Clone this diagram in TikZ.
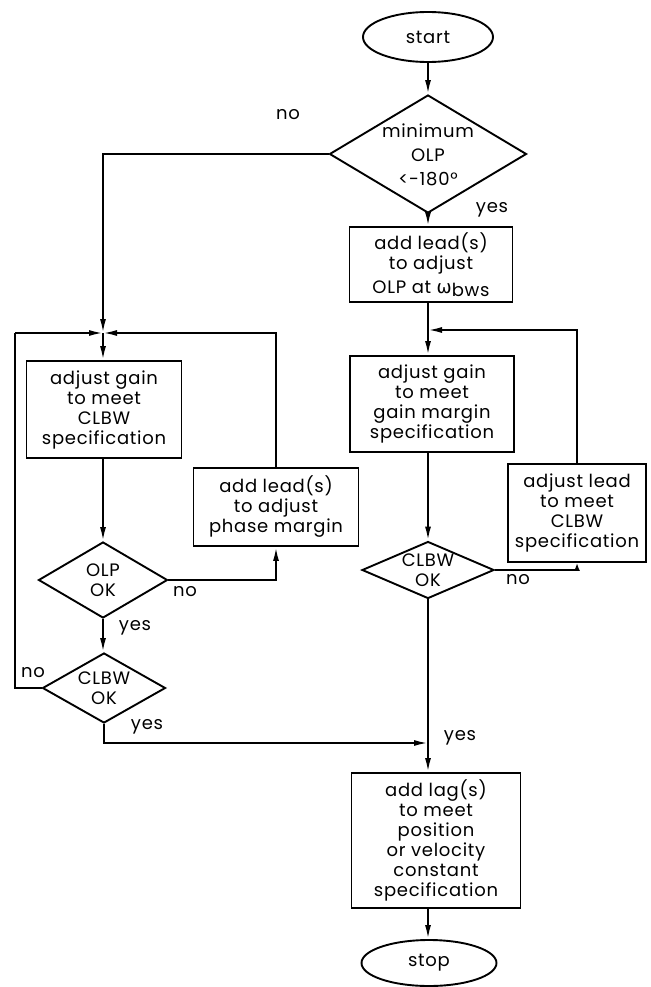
\documentclass[tikz,border=0pt]{standalone}
\usepackage{fontspec}
\setmainfont{Poppins}[LetterSpace=4]
\newfontfamily\grk{DejaVu Sans}
\usetikzlibrary{shapes.geometric,arrows.meta}
\begin{document}
\begin{tikzpicture}[x=1pt,y=-1pt,
  every node/.style={font=\fontsize{18}{20}\selectfont},
  box/.style={draw, line width=1.9pt, rectangle, align=center, inner sep=0pt},
  dec/.style={draw, line width=1.9pt, diamond, inner sep=0pt},
  term/.style={draw, line width=1.9pt, ellipse, inner sep=0pt},
  conn/.style={line width=1.9pt},
  arr/.style={conn, -{Latex[length=14pt,width=6pt]}},
  sarr/.style={conn, -{Latex[length=8pt,width=6pt]}},
  lbl/.style={inner sep=0pt, align=center}
]
\useasboundingbox (0,0) rectangle (650,987);

% right column
\node[term, minimum width=130pt, minimum height=50pt] (start) at (428,37) {start};
\node[dec, minimum width=197pt, minimum height=118pt] (d1) at (428,154) {};
\node[lbl] (d1t) at (428,155) {minimum\\[4pt]OLP\\[4pt]<-180°};
\node[box, minimum width=163pt, minimum height=75pt] (b1) at (431,264.5)
  {add lead(s)\\to adjust\\[4pt]OLP at {\grk ω}\raisebox{-0.3ex}{bws}};
\node[box, minimum width=164pt, minimum height=96pt] (b2) at (432,404)
  {adjust gain\\to meet\\gain margin\\specification};
\node[dec, minimum width=132pt, minimum height=57pt] (d3) at (428,570) {};
\node[lbl] (d3t) at (428,570) {CLBW\\OK};
\node[box, minimum width=138pt, minimum height=98pt] (b3) at (577,513)
  {adjust lead\\to meet\\CLBW\\specification};
\node[box, minimum width=169pt, minimum height=135pt] (lag) at (436,840.5)
  {add lag(s)\\to meet\\position\\or velocity\\constant\\specification};
\node[term, minimum width=135pt, minimum height=46pt] (stop) at (429,963) {stop};

% left column
\node[box, minimum width=155pt, minimum height=97pt] (b4) at (104,409.5)
  {adjust gain\\to meet\\CLBW\\specification};
\node[dec, minimum width=129pt, minimum height=76pt] (d2) at (103,580) {};
\node[lbl] (d2t) at (103,580) {OLP\\OK};
\node[box, minimum width=165pt, minimum height=78pt] (b5) at (276,507)
  {add lead(s)\\to adjust\\phase margin};
\node[dec, minimum width=123pt, minimum height=70pt] (d4) at (104,688) {};
\node[lbl] (d4t) at (104,688) {CLBW\\OK};

% junctions
\coordinate (j1) at (103,333);
\coordinate (lft) at (15,333);
\coordinate (j2) at (428,330);
\coordinate (j3) at (428,743);

% labels
\node[lbl] (l1) at (288,115) {no};
\node[lbl] (l2) at (492,210) {yes};
\node[lbl] (l3) at (185,592) {no};
\node[lbl] (l4) at (135,628) {yes};
\node[lbl] (l5) at (518,580) {no};
\node[lbl] (l6) at (33,673) {no};
\node[lbl] (l7) at (147,727) {yes};
\node[lbl] (l8) at (460,738) {yes};

% connectors right
\draw[arr] (start.south) -- (d1.north);
\draw[arr] (d1.south) -- (b1.north -| d1.south);
\draw[arr] (b1.south -| d1.south) -- (b2.north -| d1.south);
\draw[arr] (b3.north) |- (j2);
\draw[arr] (b2.south -| d1.south) -- (d3.north);
\draw[sarr] (d3.east) -| (b3.south);
\draw[conn] (d3.south) -- (j3);
\draw[arr] (j3) -- (lag.north -| j3);
\draw[arr] (lag.south -| j3) -- (stop.north -| j3);

% connectors left
\draw[arr] (d1.west) -| (j1);
\draw[arr] (j1) -- (b4.north -| j1);
\draw[arr] (b4.south -| j1) -- (d2.north);
\draw[arr] (d2.east) -| (b5.south);
\draw[arr] (b5.north) |- (j1);
\draw[arr] (d2.south) -- (d4.north -| d2.south);
\draw[conn] (d4.west) -| (lft);
\draw[arr] (lft) -- (j1);
\draw[arr] (d4.south) |- (j3);
\end{tikzpicture}
\end{document}
